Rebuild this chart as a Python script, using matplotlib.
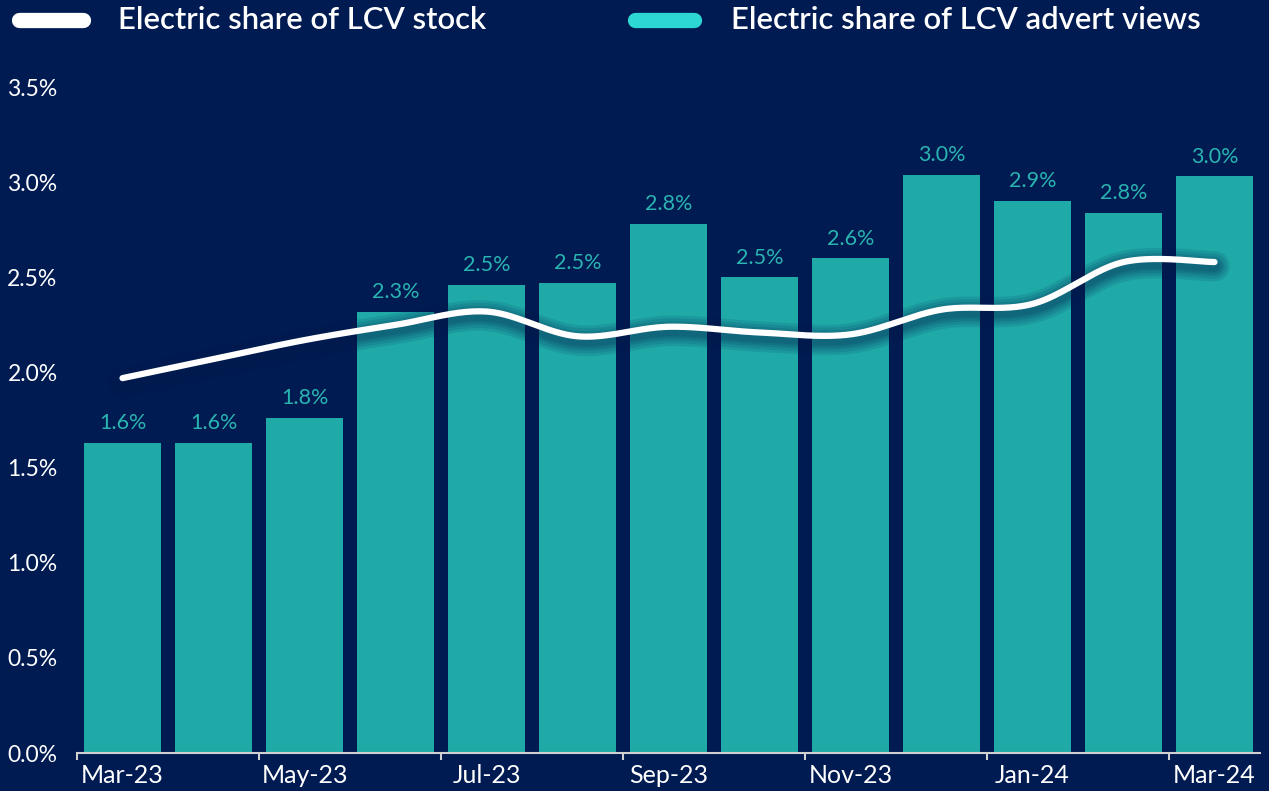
import numpy as np
import matplotlib
matplotlib.use("Agg")
import matplotlib.pyplot as plt
import matplotlib.patheffects as pe
from matplotlib.lines import Line2D
from matplotlib.ticker import FixedLocator, FuncFormatter

months = ["Mar-23", "Apr-23", "May-23", "Jun-23", "Jul-23", "Aug-23", "Sep-23",
          "Oct-23", "Nov-23", "Dec-23", "Jan-24", "Feb-24", "Mar-24"]
advert_views = [1.63, 1.63, 1.76, 2.32, 2.46, 2.47, 2.78, 2.50, 2.60, 3.04, 2.90, 2.84, 3.03]
stock_share = [1.97, 2.07, 2.17, 2.25, 2.32, 2.19, 2.24, 2.21, 2.20, 2.33, 2.36, 2.58, 2.58]
y_ticks = [0.0, 0.5, 1.0, 1.5, 2.0, 2.5, 3.0, 3.5]
legend_labels = ["Electric share of LCV stock", "Electric share of LCV advert views"]

BG = "#001A52"
BAR = "#1FAAA8"
LEG_TEAL = "#2DD8D4"
LBL_TEAL = "#2AB4B1"
FONT = ["Lato", "DejaVu Sans"]
plt.rcParams["font.family"] = FONT

fig = plt.figure(figsize=(12.69, 7.91), dpi=100, facecolor=BG)
ax = fig.add_axes([77/1269, 38/791, (1260-77)/1269, (753-87)/791])
ax.set_facecolor(BG)

x = np.arange(len(months))
ax.bar(x, advert_views, width=0.85, color=BAR, zorder=2)
for xi, v in zip(x, advert_views):
    ax.annotate(f"{v:.1f}%", (xi, v), xytext=(0, 7), textcoords="offset points",
                ha="center", va="bottom", color=LBL_TEAL, fontsize=15.5)

# smooth (Bezier / Catmull-Rom) rendering of the stock line
def smooth(xs, ys, n=40):
    pts = np.column_stack([xs, ys]).astype(float)
    out = []
    for i in range(len(pts) - 1):
        p0 = pts[i-1] if i > 0 else pts[i]
        p1, p2 = pts[i], pts[i+1]
        p3 = pts[i+2] if i + 2 < len(pts) else pts[i+1]
        c1 = p1 + (p2 - p0) / 6.0
        c2 = p2 - (p3 - p1) / 6.0
        t = np.linspace(0, 1, n)[:, None]
        seg = ((1-t)**3)*p1 + 3*((1-t)**2)*t*c1 + 3*(1-t)*t**2*c2 + t**3*p2
        out.append(seg if i == 0 else seg[1:])
    s = np.vstack(out)
    return s[:, 0], s[:, 1]

sx, sy = smooth(x, stock_share)
glow = [pe.Stroke(linewidth=w, foreground="#03204e", alpha=0.12, offset=(0, -3))
        for w in (22, 18, 14, 11, 8)]
ax.plot(sx, sy, color="white", lw=4.5, solid_capstyle="round", zorder=4,
        path_effects=glow + [pe.Normal()])

ax.set_xlim(-0.5, len(months) - 0.5)
ax.set_ylim(0, 3.5)
ax.set_yticks(y_ticks)
ax.yaxis.set_major_formatter(FuncFormatter(lambda v, p: f"{v:.1f}%"))
ax.tick_params(axis="y", length=0, colors="white", labelsize=16.5, pad=14)

ax.set_xticks(x[::2])
ax.set_xticklabels(months[::2])
ax.tick_params(axis="x", which="major", length=0, colors="white", labelsize=18, pad=8)
ax.xaxis.set_minor_locator(FixedLocator(list(np.arange(-0.5, len(months) - 0.5, 2.0))))
ax.tick_params(axis="x", which="minor", length=5, width=1.5, color="#D0D0D0")

for s in ["top", "right", "left"]:
    ax.spines[s].set_visible(False)
ax.spines["bottom"].set_color("#D0D0D0")
ax.spines["bottom"].set_linewidth(1.5)

# legend drawn at top
ly = 1 - 20/791
fig.add_artist(Line2D([19/1269, 83/1269], [ly, ly], color="white",
                      lw=11, solid_capstyle="round", transform=fig.transFigure))
fig.text(118/1269, ly, legend_labels[0], color="white", fontsize=22.3,
         fontweight="semibold", va="center", ha="left")
fig.add_artist(Line2D([635/1269, 694/1269], [ly, ly], color=LEG_TEAL,
                      lw=11, solid_capstyle="round", transform=fig.transFigure))
fig.text(731/1269, ly, legend_labels[1], color="white", fontsize=22.3,
         fontweight="semibold", va="center", ha="left")

fig.savefig("out.png", dpi=100, facecolor=BG)
